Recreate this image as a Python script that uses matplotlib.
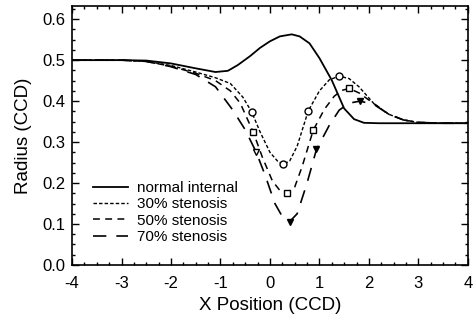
import matplotlib
matplotlib.use("Agg")
import matplotlib.pyplot as plt
from matplotlib.ticker import MultipleLocator

plt.rcParams['font.family'] = ['Liberation Sans', 'DejaVu Sans']

# Normal internal (solid)
x_norm = [-4, -3, -2.5, -2, -1.5, -1.1, -0.85, -0.65, -0.4, -0.2, 0.0, 0.2, 0.44,
          0.6, 0.8, 1.0, 1.25, 1.5, 1.7, 1.9, 2.2, 4]
y_norm = [0.500, 0.500, 0.499, 0.492, 0.480, 0.471, 0.474, 0.488, 0.510, 0.530, 0.546,
          0.558, 0.563, 0.558, 0.541, 0.505, 0.451, 0.382, 0.356, 0.347, 0.346, 0.346]

# 30% stenosis
x_30 = [-4, -3, -2.5, -2, -1.5, -1.1, -0.8, -0.55, -0.37, -0.2, 0.0, 0.15, 0.27, 0.4,
        0.55, 0.774, 1.0, 1.2, 1.4, 1.6, 1.8, 2.1, 2.4, 2.7, 3.0, 3.5, 4]
y_30 = [0.500, 0.500, 0.497, 0.487, 0.471, 0.457, 0.443, 0.410, 0.374, 0.325, 0.275,
        0.254, 0.246, 0.254, 0.290, 0.376, 0.425, 0.452, 0.461, 0.455, 0.435, 0.394,
        0.368, 0.354, 0.348, 0.346, 0.346]
mx_30 = [-0.37, 0.27, 0.774, 1.40]
my_30 = [0.374, 0.246, 0.376, 0.461]

# 50% stenosis
x_50 = [-4, -3, -2.5, -2, -1.5, -1.1, -0.8, -0.6, -0.34, -0.15, 0.05, 0.2, 0.34, 0.5,
        0.65, 0.875, 1.1, 1.3, 1.45, 1.6, 1.8, 2.1, 2.4, 2.7, 3.0, 3.5, 4]
y_50 = [0.500, 0.500, 0.497, 0.485, 0.468, 0.450, 0.425, 0.395, 0.325, 0.262, 0.205,
        0.182, 0.176, 0.190, 0.240, 0.329, 0.380, 0.412, 0.426, 0.431, 0.420, 0.394,
        0.368, 0.354, 0.348, 0.346, 0.346]
mx_50 = [-0.34, 0.34, 0.875, 1.60]
my_50 = [0.325, 0.176, 0.329, 0.431]

# 70% stenosis
x_70 = [-4, -3, -2.5, -2, -1.5, -1.1, -0.75, -0.5, -0.28, -0.1, 0.1, 0.25, 0.40, 0.55,
        0.75, 0.94, 1.2, 1.4, 1.6, 1.82, 2.1, 2.4, 2.7, 3.0, 3.5, 4]
y_70 = [0.500, 0.500, 0.497, 0.484, 0.465, 0.435, 0.378, 0.330, 0.276, 0.220, 0.150,
        0.118, 0.106, 0.125, 0.200, 0.282, 0.341, 0.378, 0.395, 0.400, 0.392, 0.368,
        0.354, 0.348, 0.346, 0.346]
mx_70_open = [-0.28]
my_70_open = [0.276]
mx_70 = [0.40, 0.94, 1.82]
my_70 = [0.106, 0.282, 0.400]

labels = ["normal internal", "30% stenosis", "50% stenosis", "70% stenosis"]
x_ticks = [-4, -3, -2, -1, 0, 1, 2, 3, 4]
y_ticks = [0.0, 0.1, 0.2, 0.3, 0.4, 0.5, 0.6]

fig = plt.figure(figsize=(4.74, 3.2), dpi=100)
ax = fig.add_axes([0.152, 0.172, 0.835, 0.809])

ax.plot(x_norm, y_norm, color='black', lw=1.3, ls='-', label=labels[0])
ax.plot(x_30, y_30, color='black', lw=1.0, ls=(0, (2.5, 1.5)), label=labels[1])
ax.plot(x_50, y_50, color='black', lw=1.1, ls=(0, (4.5, 3.5)), label=labels[2])
ax.plot(x_70, y_70, color='black', lw=1.2, ls=(0, (8, 6)), label=labels[3])

ax.plot(mx_30, my_30, ls='none', marker='o', ms=5, mfc='white', mec='black', mew=1.0)
ax.plot(mx_50, my_50, ls='none', marker='s', ms=4, mfc='white', mec='black', mew=1.0)
ax.plot(mx_70_open, my_70_open, ls='none', marker='v', ms=5, mfc='white', mec='black', mew=1.0)
ax.plot(mx_70, my_70, ls='none', marker='v', ms=5, mfc='black', mec='black', mew=1.0)

ax.set_xlim(-4, 4)
ax.set_ylim(0, 0.632)
ax.set_xticks(x_ticks)
ax.set_xticklabels([str(v) for v in x_ticks])
ax.set_yticks(y_ticks)
ax.set_yticklabels([f"{v:.1f}" for v in y_ticks])
ax.xaxis.set_minor_locator(MultipleLocator(0.25))
ax.yaxis.set_minor_locator(MultipleLocator(0.025))
ax.tick_params(which='both', direction='in', top=True, right=True, labelsize=12, width=1.0)
ax.tick_params(which='major', length=5)
ax.tick_params(which='minor', length=2.5)
ax.tick_params(axis='x', which='major', pad=8)
ax.tick_params(axis='y', which='major', pad=5)
for s in ax.spines.values():
    s.set_linewidth(1.2)

ax.set_xlabel("X Position (CCD)", fontsize=13.5, labelpad=4)
ax.set_ylabel("Radius (CCD)", fontsize=13.5, labelpad=7)

leg = ax.legend(loc='upper left', bbox_to_anchor=(0.025, 0.365), frameon=False,
                fontsize=11, handlelength=2.3, handletextpad=0.6, labelspacing=0.15,
                borderpad=0.2)

fig.savefig("out.png", dpi=100)
